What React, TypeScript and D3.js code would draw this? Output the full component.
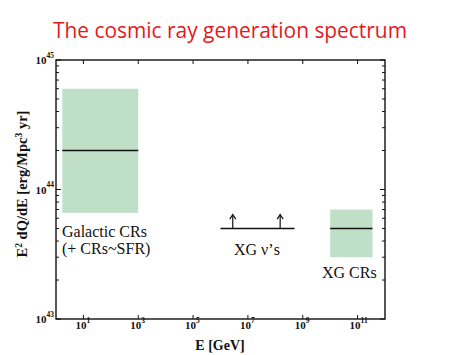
import React from "react";
import * as d3 from "d3";

const xTicks = [1e1, 1e3, 1e5, 1e7, 1e9, 1e11];
const yTicks = [1e43, 1e44, 1e45];
const galacticBox = { x0: 1.7, x1: 1e3, y0: 6.6e43, y1: 6e44, mid: 2e44 };
const xgCrBox = { x0: 1e10, x1: 3.5e11, y0: 3e43, y1: 7e43, mid: 5e43 };
const nuLine = { x0: 1e6, x1: 5e8, y: 5e43 };
const nuArrows = [2.8e6, 1.5e8];
const arrowTop = 6.4e43;

const W = 474, H = 355;
const L = 56, R = 385, T = 60, B = 319;

export default function App() {
  const x = d3.scaleLog().domain([1, 1e12]).range([L, R]);
  const y = d3.scaleLog().domain([1e43, 1e45]).range([B, T]);
  const serif = "'Liberation Serif', 'DejaVu Serif', serif";
  const green = "#bfdfc7";

  const minorY: number[] = [];
  for (let e = 43; e < 45; e++) for (let m = 2; m <= 9; m++) minorY.push(m * Math.pow(10, e));

  const exp = (v: number) => Math.round(Math.log10(v));

  const box = (b: typeof galacticBox, key: string) => (
    <g key={key}>
      <rect x={x(b.x0)} y={y(b.y1)} width={x(b.x1) - x(b.x0)} height={y(b.y0) - y(b.y1)} fill={green} />
      <line x1={x(b.x0)} x2={x(b.x1)} y1={y(b.mid)} y2={y(b.mid)} stroke="#111" strokeWidth={1.5} />
    </g>
  );

  return (
    <svg width={W} height={H} style={{ position: "absolute", left: 0, top: 0, background: "#fff" }}>
      <text x={53} y={38} fill="#e5181e" fontFamily="'Open Sans', 'DejaVu Sans', sans-serif" fontSize={22}
        textLength={354} lengthAdjust="spacingAndGlyphs">The cosmic ray generation spectrum</text>

      {box(galacticBox, "g")}
      {box(xgCrBox, "c")}

      <line x1={x(nuLine.x0)} x2={x(nuLine.x1)} y1={y(nuLine.y)} y2={y(nuLine.y)} stroke="#111" strokeWidth={1.5} />
      {nuArrows.map((a, i) => {
        const ax = x(a), ty = y(arrowTop);
        return (
          <g key={i}>
            <line x1={ax} x2={ax} y1={y(nuLine.y)} y2={ty} stroke="#111" strokeWidth={1.2} />
            <path d={`M${ax - 3},${ty + 4.5} L${ax},${ty} L${ax + 3},${ty + 4.5}`} fill="none" stroke="#111" strokeWidth={1.2} />
          </g>
        );
      })}

      <rect x={L} y={T} width={R - L} height={B - T} fill="none" stroke="#111" strokeWidth={1.4} />

      {minorY.map((v, i) => (
        <g key={i}>
          <line x1={L} x2={L + 3} y1={y(v)} y2={y(v)} stroke="#111" strokeWidth={1} />
          <line x1={R} x2={R - 3} y1={y(v)} y2={y(v)} stroke="#111" strokeWidth={1} />
        </g>
      ))}
      {yTicks.map((v, i) => (
        <g key={i}>
          <line x1={L} x2={L + 5} y1={y(v)} y2={y(v)} stroke="#111" strokeWidth={1} />
          <line x1={R} x2={R - 5} y1={y(v)} y2={y(v)} stroke="#111" strokeWidth={1} />
          <text x={35.5} y={y(v) + 4} fontFamily={serif} fontWeight="bold" fontSize={11} fill="#111">
            10<tspan dy={-6.5} fontSize={7.5}>{exp(v)}</tspan>
          </text>
        </g>
      ))}
      {xTicks.map((v, i) => (
        <g key={i}>
          <line x1={x(v)} x2={x(v)} y1={B} y2={B - 4} stroke="#111" strokeWidth={1} />
          <line x1={x(v)} x2={x(v)} y1={T} y2={T + 4} stroke="#111" strokeWidth={1} />
          <text x={x(v) - 8} y={329} fontFamily={serif} fontWeight="bold" fontSize={11} fill="#111">
            10<tspan dy={-6.5} fontSize={7.5}>{exp(v)}</tspan>
          </text>
        </g>
      ))}

      <text x={220} y={350} textAnchor="middle" fontFamily={serif} fontWeight="bold" fontSize={14} fill="#111">E [GeV]</text>
      <text transform={`translate(27,184) rotate(-90)`} textAnchor="middle" fontFamily={serif} fontWeight="bold" fontSize={14.5} fill="#111">
        E<tspan dy={-5} fontSize={9.5}>2</tspan><tspan dy={5}> dQ/dE  [erg/Mpc</tspan><tspan dy={-5} fontSize={9.5}>3</tspan><tspan dy={5}> yr]</tspan>
      </text>

      <text x={62} y={237} fontFamily={serif} fontSize={16} fill="#111">Galactic CRs</text>
      <text x={62} y={254} fontFamily={serif} fontSize={16} fill="#111">(+ CRs~SFR)</text>
      <text x={234} y={255} fontFamily={serif} fontSize={16} fill="#111">XG ν’s</text>
      <text x={322} y={278} fontFamily={serif} fontSize={16} fill="#111">XG CRs</text>
    </svg>
  );
}
